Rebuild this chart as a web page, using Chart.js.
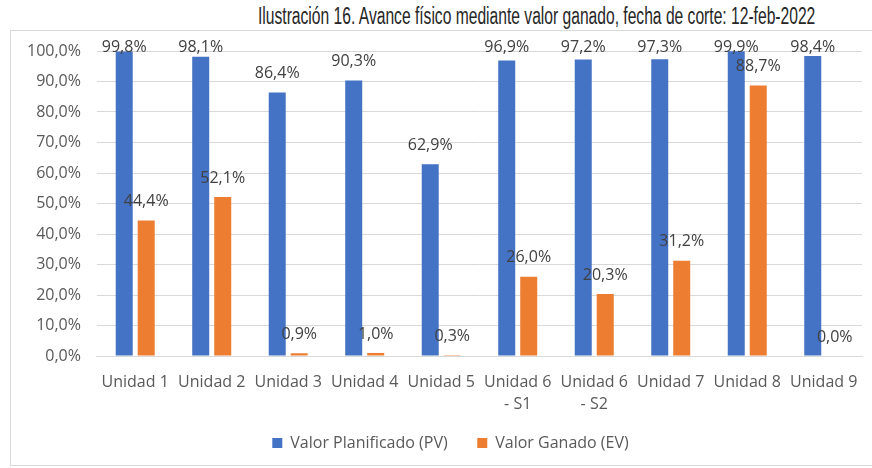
<!DOCTYPE html>
<html>
<head>
<meta charset="utf-8">
<script src="https://cdn.jsdelivr.net/npm/chart.js@4.4.1/dist/chart.umd.min.js"></script>
<style>
  body { margin: 0; background: #fff; }
  #wrap { position: relative; width: 872px; height: 468px; overflow: hidden; }
  #frame { position: absolute; left: 10px; top: 30px; width: 880px; height: 436px; border: 1px solid #d9d9d9; box-sizing: border-box; }
  #title { position: absolute; left: 258px; top: 3px; white-space: nowrap; font-family: 'Liberation Sans Narrow', 'Liberation Sans', Arial, sans-serif; font-size: 23px; color: #262626; transform-origin: 0 0; }
  #chart { position: absolute; left: 0; top: 0; }
</style>
</head>
<body>
<div id="wrap">
  <div id="frame"></div>
  <div id="title">Ilustración 16. Avance físico mediante valor ganado, fecha de corte: 12-feb-2022</div>
  <canvas id="chart" width="872" height="468"></canvas>
</div>
<script>
const categories = ['Unidad 1', 'Unidad 2', 'Unidad 3', 'Unidad 4', 'Unidad 5',
  ['Unidad 6', '- S1'], ['Unidad 6', '- S2'], 'Unidad 7', 'Unidad 8', 'Unidad 9'];
const plannedValues = [99.8, 98.1, 86.4, 90.3, 62.9, 96.9, 97.2, 97.3, 99.9, 98.4];
const earnedValues = [44.4, 52.1, 0.9, 1.0, 0.3, 26.0, 20.3, 31.2, 88.7, 0.0];
const seriesNames = ['Valor Planificado (PV)', 'Valor Ganado (EV)'];

function pct(v) {
  return v.toFixed(1).replace('.', ',') + '%';
}

// fit the condensed title to its width in the picture
const title = document.getElementById('title');
title.style.transform = 'scaleX(' + (557 / title.offsetWidth) + ')';

const valueLabels = {
  id: 'valueLabels',
  afterDatasetsDraw(chart) {
    const ctx = chart.ctx;
    const top = chart.chartArea.top;
    ctx.save();
    ctx.font = '16px "Open Sans"';
    ctx.fillStyle = '#404040';
    ctx.textAlign = 'center';
    ctx.textBaseline = 'middle';
    chart.data.datasets.forEach((ds, i) => {
      chart.getDatasetMeta(i).data.forEach((bar, j) => {
        const y = Math.max(bar.y - 19, top - 4);
        ctx.fillText(pct(ds.data[j]), bar.x, y);
      });
    });
    ctx.restore();
  }
};

// the legend sits a little right of the canvas centre in the picture
const legendNudge = {
  id: 'legendNudge',
  afterLayout(chart) {
    chart.legend.left += 14;
    chart.legend.right += 14;
  }
};

const ctx = document.getElementById('chart').getContext('2d');
new Chart(ctx, {
  type: 'bar',
  data: {
    labels: categories,
    datasets: [
      {
        label: seriesNames[0],
        data: plannedValues,
        backgroundColor: '#4472C4'
      },
      {
        label: seriesNames[1],
        data: earnedValues,
        backgroundColor: '#ED7D31'
      }
    ]
  },
  options: {
    responsive: false,
    animation: false,
    categoryPercentage: 0.575,
    barPercentage: 0.773,
    layout: {
      padding: { left: 11, right: 10, top: 51, bottom: 7 }
    },
    plugins: {
      legend: {
        position: 'bottom',
        labels: {
          boxWidth: 10,
          boxHeight: 10,
          padding: 13,
          color: '#595959',
          font: { family: 'Open Sans', size: 16 },
          generateLabels(chart) {
            const items = Chart.defaults.plugins.legend.labels.generateLabels(chart);
            // wider gap between the two entries, as in the picture
            items[0].text += '\u00a0\u00a0\u00a0\u00a0';
            return items;
          }
        }
      },
      tooltip: { enabled: false }
    },
    scales: {
      x: {
        grid: { display: false },
        border: { color: '#d9d9d9' },
        ticks: {
          color: '#595959',
          padding: 7,
          maxRotation: 0,
          autoSkip: false,
          font: { family: 'Open Sans', size: 16, lineHeight: 1.375 }
        }
      },
      y: {
        min: 0,
        max: 100,
        grid: { color: '#d9d9d9', drawTicks: false },
        border: { display: false },
        ticks: {
          stepSize: 10,
          padding: 16,
          color: '#595959',
          font: { family: 'Open Sans', size: 16 },
          callback: v => pct(v)
        }
      }
    }
  },
  plugins: [valueLabels, legendNudge]
});
</script>
</body>
</html>
